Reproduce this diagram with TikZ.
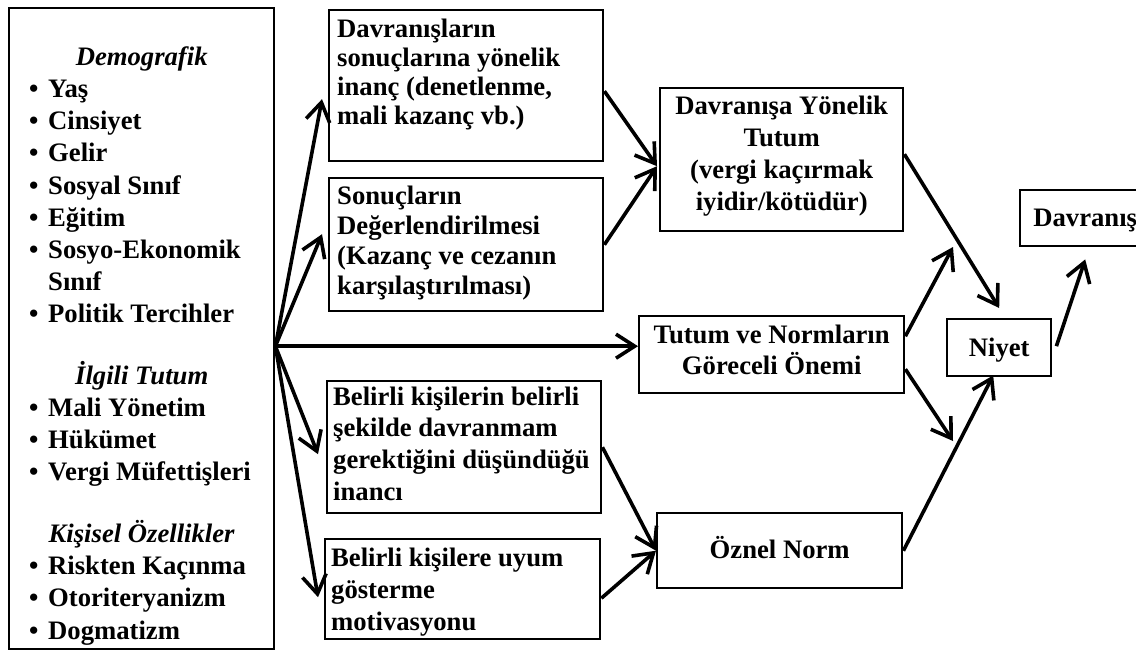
\documentclass[tikz,border=0pt]{standalone}
\usepackage{fontspec}
\setmainfont{Liberation Serif}
\usepackage{tikz}
\usetikzlibrary{arrows.meta, calc}
\newcommand{\listbullet}{\makebox[14.25pt][l]{\textbullet}}
\tikzset{
  boxfont/.style={font=\fontsize{20pt}{#1}\selectfont\bfseries},
  box/.style={rectangle, draw=black, line width=1.8pt, inner ysep=0pt,
    anchor=north west, boxfont=24pt},
  leftbox/.style={box, align=flush left},
  midbox/.style={box, align=flush center},
  arrow/.style={-{Straight Barb[length=14pt, width=18pt]}, line width=2.7pt}
}

\begin{document}
\begin{tikzpicture}[x=0.75pt, y=-0.75pt]
  \useasboundingbox (0,0) rectangle (1136,650);
  \node[leftbox, text width=168.75pt, inner xsep=15pt, text height=42.75pt,
    text depth=438pt, boxfont=24.15pt] (factors) at (8,7) {%
    \makebox[\linewidth]{\textit{Demografik}}\\
    \listbullet Yaş\\
    \listbullet Cinsiyet\\
    \listbullet Gelir\\
    \listbullet Sosyal Sınıf\\
    \listbullet Eğitim\\
    \listbullet Sosyo-Ekonomik\\
    \hspace*{14.25pt}Sınıf\\
    \listbullet Politik Tercihler\\[22pt]
    \makebox[\linewidth]{\textit{İlgili Tutum}}\\
    \listbullet Mali Yönetim\\
    \listbullet Hükümet\\
    \listbullet Vergi Müfettişleri\\[22pt]
    \makebox[\linewidth]{\textit{Kişisel Özellikler}}\\
    \listbullet Riskten Kaçınma\\
    \listbullet Otoriteryanizm\\
    \listbullet Dogmatizm};
  \node[leftbox, text width=193.5pt, inner xsep=6pt, text height=20.6pt,
    text depth=92.6pt, boxfont=21.75pt] (belief) at (328,9)
    {Davranışların\\ sonuçlarına yönelik\\ inanç (denetlenme,\\ mali kazanç vb.)};
  \node[leftbox, text width=193.5pt, inner xsep=6pt, text height=19.5pt,
    text depth=80.25pt, boxfont=22.5pt] (evaluation) at (328,177)
    {Sonuçların\\ Değerlendirilmesi\\ (Kazanç ve cezanın\\ karşılaştırılması)};
  \node[leftbox, text width=196.5pt, inner xsep=4.5pt, text height=18pt,
    text depth=81pt, boxfont=23.8pt] (normbelief) at (326,380)
    {Belirli kişilerin belirli\\ şekilde davranmam\\ gerektiğini düşündüğü\\ inancı};
  \node[leftbox, text width=197.25pt, inner xsep=4.5pt, text height=20.25pt,
    text depth=54.75pt] (motivation) at (324,538)
    {Belirli kişilere uyum\\ gösterme\\ motivasyonu};
  \node[midbox, text width=176.25pt, inner xsep=3pt, text height=19.5pt,
    text depth=87.75pt] (attitude) at (659,87)
    {Davranışa Yönelik\\ Tutum\\ (vergi kaçırmak\\ iyidir/kötüdür)};
  \node[midbox, text width=192.75pt, inner xsep=3pt, text height=20.25pt,
    text depth=37.5pt, boxfont=23.25pt] (weight) at (638,315)
    {Tutum ve Normların\\ Göreceli Önemi};
  \node[box, minimum width=183.75pt, text height=33.75pt, text depth=22.5pt]
    (subjnorm) at (656,512) {Öznel Norm};
  \node[box, minimum width=78pt, text height=27.75pt, text depth=15pt]
    (intention) at (946,318) {Niyet};
  \node[box, minimum width=97.5pt, text height=27pt, text depth=15pt]
    (behaviour) at (1019,189) {Davranış};

  \coordinate (fan) at ($(factors.east)+(0,17.5)$);
  \coordinate (mod1) at (953,247);
  \coordinate (mod2) at (953,441);

  \draw[arrow] (fan) -- ($(belief.west)+(-6,13.5)$);
  \draw[arrow] (fan) -- ($(evaluation.west)+(-6,-10.5)$);
  \draw[arrow] (fan) -- (fan -| weight.west);
  \draw[arrow] (fan) -- ($(normbelief.west)+(-8,7)$);
  \draw[arrow] (fan) -- ($(motivation.west)+(-6,8)$);
  \draw[arrow] ($(belief.east)+(0,5.5)$) -- ($(attitude.west)+(-2,6.5)$);
  \draw[arrow] (evaluation.east) -- ($(attitude.west)+(-2,6.5)$);
  \draw[arrow] (normbelief.east) -- (subjnorm.west);
  \draw[arrow] ($(motivation.east)+(0,9)$) -- (subjnorm.west);
  \draw[arrow] ($(attitude.east)+(0,-5.5)$) -- ($(intention.north)+(0,-10)$);
  \draw[arrow] ($(weight.east)+(0,-18.5)$) -- (mod1);
  \draw[arrow] ($(weight.east)+(0,14.5)$) -- (mod2);
  \draw[arrow] (subjnorm.east) -- ($(intention.south)+(-6,-2)$);
  \draw[arrow] ($(intention.east)+(4,-1.5)$) -- ($(behaviour.south)+(0,12)$);
\end{tikzpicture}
\end{document}
